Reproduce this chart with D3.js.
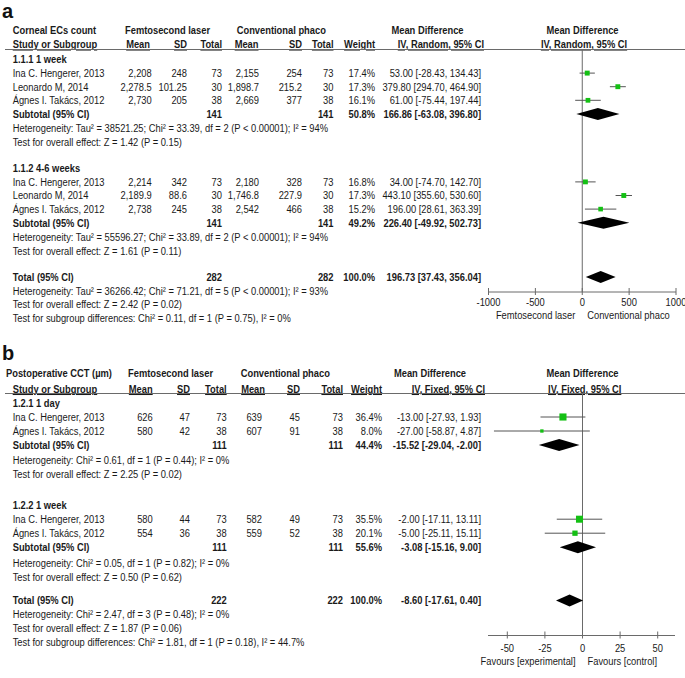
<!DOCTYPE html>
<html><head><meta charset="utf-8">
<script src="https://cdn.jsdelivr.net/npm/d3@7"></script>
<style>body{margin:0;background:#fff}svg{display:block}</style>
</head><body>
<script>
// ================= DATA: panel a (Corneal ECs count) =================
const studiesA = ["Ina C. Hengerer, 2013", "Leonardo M, 2014", "Ágnes I. Takács, 2012"];
const groupsA = ["1.1.1 1 week", "1.1.2 4-6 weeks"];
const laserMeanA = [[2208, 2278.5, 2730], [2214, 2189.9, 2738]];
const laserSdA   = [[248, 101.25, 205], [342, 88.6, 245]];
const laserNA    = [[73, 30, 38], [73, 30, 38]];
const convMeanA  = [[2155, 1898.7, 2669], [2180, 1746.8, 2542]];
const convSdA    = [[254, 215.2, 377], [328, 227.9, 466]];
const convNA     = [[73, 30, 38], [73, 30, 38]];
const weightA    = [[17.4, 17.3, 16.1], [16.8, 17.3, 15.2]];
const mdA        = [[53.00, 379.80, 61.00], [34.00, 443.10, 196.00]];
const loA        = [[-28.43, 294.70, -75.44], [-74.70, 355.60, 28.61]];
const hiA        = [[134.43, 464.90, 197.44], [142.70, 530.60, 363.39]];
const subNA      = [[141, 141], [141, 141]];
const subWeightA = [50.8, 49.2];
const subMdA     = [166.86, 226.40];
const subLoA     = [-63.08, -49.92];
const subHiA     = [396.80, 502.73];
const hetA  = ["Heterogeneity: Tau² = 38521.25; Chi² = 33.39, df = 2 (P < 0.00001); I² = 94%",
               "Heterogeneity: Tau² = 55596.27; Chi² = 33.89, df = 2 (P < 0.00001); I² = 94%"];
const testA = ["Test for overall effect: Z = 1.42 (P = 0.15)", "Test for overall effect: Z = 1.61 (P = 0.11)"];
const totalNA = [282, 282];
const totalA  = [196.73, 37.43, 356.04];   // md, lo, hi
const totalHetA  = "Heterogeneity: Tau² = 36266.42; Chi² = 71.21, df = 5 (P < 0.00001); I² = 93%";
const totalTestA = "Test for overall effect: Z = 2.42 (P = 0.02)";
const subgroupA  = "Test for subgroup differences: Chi² = 0.11, df = 1 (P = 0.75), I² = 0%";
const ticksA = [-1000, -500, 0, 500, 1000];
const favoursA = ["Femtosecond laser", "Conventional phaco"];

// ================= DATA: panel b (Postoperative CCT) =================
const studiesB = ["Ina C. Hengerer, 2013", "Ágnes I. Takács, 2012"];
const groupsB = ["1.2.1 1 day", "1.2.2 1 week"];
const laserMeanB = [[626, 580], [580, 554]];
const laserSdB   = [[47, 42], [44, 36]];
const laserNB    = [[73, 38], [73, 38]];
const convMeanB  = [[639, 607], [582, 559]];
const convSdB    = [[45, 91], [49, 52]];
const convNB     = [[73, 38], [73, 38]];
const weightB    = [[36.4, 8.0], [35.5, 20.1]];
const mdB        = [[-13.00, -27.00], [-2.00, -5.00]];
const loB        = [[-27.93, -58.87], [-17.11, -25.11]];
const hiB        = [[1.93, 4.87], [13.11, 15.11]];
const subNB      = [[111, 111], [111, 111]];
const subWeightB = [44.4, 55.6];
const subMdB     = [-15.52, -3.08];
const subLoB     = [-29.04, -15.16];
const subHiB     = [-2.00, 9.00];
const hetB  = ["Heterogeneity: Chi² = 0.61, df = 1 (P = 0.44); I² = 0%",
               "Heterogeneity: Chi² = 0.05, df = 1 (P = 0.82); I² = 0%"];
const testB = ["Test for overall effect: Z = 2.25 (P = 0.02)", "Test for overall effect: Z = 0.50 (P = 0.62)"];
const totalNB = [222, 222];
const totalB  = [-8.60, -17.61, 0.40];
const totalHetB  = "Heterogeneity: Chi² = 2.47, df = 3 (P = 0.48); I² = 0%";
const totalTestB = "Test for overall effect: Z = 1.87 (P = 0.06)";
const subgroupB  = "Test for subgroup differences: Chi² = 1.81, df = 1 (P = 0.18), I² = 44.7%";
const ticksB = [-50, -25, 0, 25, 50];
const favoursB = ["Favours [experimental]", "Favours [control]"];

// ================= DRAWING =================
const W = 685, H = 678, SX = 0.85;
const FONT = "'Liberation Sans', Arial, sans-serif";
const svg = d3.select("body").append("svg").attr("width", W).attr("height", H)
  .style("font-family", FONT).style("font-size", "11px");

const numFmt = d3.format(",");
const f2 = v => v.toFixed(2);
const ciTxt = (m, l, h) => `${f2(m)} [${f2(l)}, ${f2(h)}]`;
const pct = v => v.toFixed(1) + "%";

function txt(g, x, y, s, anchor = "start", bold = false, underline = false) {
  const t = g.append("text")
    .attr("transform", `translate(${x},${y}) scale(${SX},1)`)
    .attr("dy", "0.35em").attr("text-anchor", anchor).attr("fill", "#1a1a1a")
    .text(s);
  if (bold) t.style("font-weight", "bold");
  if (underline) t.style("text-decoration", "underline");
  return t;
}

function panel(cfg) {
  const g = svg.append("g");
  const c = cfg.cols;
  const x = d3.scaleLinear().domain(cfg.domain).range(cfg.range);
  const rowY = i => cfg.row0 + cfg.rowStep * i;
  const sq = d3.scaleSqrt().domain([0, 100]).range([0, 11.8]);

  g.append("text").attr("x", 2).attr("y", cfg.letterY).text(cfg.letter)
    .style("font-weight", "bold").style("font-size", "20px").attr("fill", "#111");

  txt(g, cfg.titleX, cfg.hdr1Y, cfg.title, "start", true);
  txt(g, c.g1, cfg.hdr1Y, "Femtosecond laser", "start", true);
  txt(g, c.g2, cfg.hdr1Y, "Conventional phaco", "start", true);
  txt(g, c.mdHead, cfg.hdr1Y, "Mean Difference", "middle", true);
  txt(g, c.plotHead, cfg.hdr1Y, "Mean Difference", "middle", true);
  txt(g, c.study, cfg.hdr2Y, "Study or Subgroup", "start", true, true);
  [["Mean", c.m1h], ["SD", c.s1], ["Total", c.t1], ["Mean", c.m2h], ["SD", c.s2], ["Total", c.t2], ["Weight", c.w]]
    .forEach(([s, xx]) => txt(g, xx, cfg.hdr2Y, s, "end", true, true));
  txt(g, c.ciHead, cfg.hdr2Y, cfg.method, "end", true, true);
  txt(g, c.plotHead2, cfg.hdr2Y, cfg.method, "middle", true, true);

  g.append("line").attr("x1", 5).attr("x2", W).attr("y1", cfg.lineY).attr("y2", cfg.lineY)
    .attr("stroke", "#6a6a6a").attr("stroke-width", 1);

  g.append("line").attr("x1", x(0)).attr("x2", x(0)).attr("y1", cfg.lineY).attr("y2", cfg.axisY)
    .attr("stroke", "#6a6a6a").attr("stroke-width", 1);

  const d = cfg.data;
  const diamond = (m, l, h, y) => g.append("path")
    .attr("d", `M${x(l)},${y}L${x(m)},${y - 6}L${x(h)},${y}L${x(m)},${y + 6}Z`).attr("fill", "#000");

  d.groups.forEach((gn, gi) => {
    const base = cfg.groupRows[gi];
    txt(g, c.study, rowY(base), gn, "start", true);
    d.studies.forEach((sn, j) => {
      const y = rowY(base + 1 + j);
      txt(g, c.study, y, sn);
      txt(g, c.m1, y, numFmt(d.lm[gi][j]), "end");
      txt(g, c.s1, y, numFmt(d.ls[gi][j]), "end");
      txt(g, c.t1, y, d.ln[gi][j], "end");
      txt(g, c.m2, y, numFmt(d.cm[gi][j]), "end");
      txt(g, c.s2, y, numFmt(d.cs[gi][j]), "end");
      txt(g, c.t2, y, d.cn[gi][j], "end");
      txt(g, c.w, y, pct(d.w[gi][j]), "end");
      txt(g, c.ci, y, ciTxt(d.md[gi][j], d.lo[gi][j], d.hi[gi][j]), "end");
      g.append("line").attr("x1", x(d.lo[gi][j])).attr("x2", x(d.hi[gi][j])).attr("y1", y).attr("y2", y)
        .attr("stroke", "#555").attr("stroke-width", 1);
      const s = sq(d.w[gi][j]);
      g.append("rect").attr("x", x(d.md[gi][j]) - s / 2).attr("y", y - s / 2).attr("width", s).attr("height", s)
        .attr("fill", "#14c014");
    });
    const ys = rowY(base + 1 + d.studies.length);
    txt(g, c.study, ys, "Subtotal (95% CI)", "start", true);
    txt(g, c.t1, ys, d.subN[gi][0], "end", true);
    txt(g, c.t2, ys, d.subN[gi][1], "end", true);
    txt(g, c.w, ys, pct(d.subW[gi]), "end", true);
    txt(g, c.ci, ys, ciTxt(d.subMd[gi], d.subLo[gi], d.subHi[gi]), "end", true);
    diamond(d.subMd[gi], d.subLo[gi], d.subHi[gi], ys);
    txt(g, c.study, rowY(base + 2 + d.studies.length) + cfg.footPad, d.het[gi]);
    txt(g, c.study, rowY(base + 3 + d.studies.length) + cfg.footPad, d.test[gi]);
  });

  const yt = rowY(cfg.totalRow);
  txt(g, c.study, yt, "Total (95% CI)", "start", true);
  txt(g, c.t1, yt, d.totN[0], "end", true);
  txt(g, c.t2, yt, d.totN[1], "end", true);
  txt(g, c.w, yt, "100.0%", "end", true);
  txt(g, c.ci, yt, ciTxt(d.tot[0], d.tot[1], d.tot[2]), "end", true);
  diamond(d.tot[0], d.tot[1], d.tot[2], yt);
  txt(g, c.study, rowY(cfg.totalRow + 1), d.totHet);
  txt(g, c.study, rowY(cfg.totalRow + 2), d.totTest);
  txt(g, c.study, rowY(cfg.totalRow + 3), d.subgroup);

  g.append("line").attr("x1", cfg.axisX[0]).attr("x2", cfg.axisX[1]).attr("y1", cfg.axisY).attr("y2", cfg.axisY)
    .attr("stroke", "#6a6a6a").attr("stroke-width", 1);
  cfg.ticks.forEach(t => {
    g.append("line").attr("x1", x(t)).attr("x2", x(t)).attr("y1", cfg.axisY - 4).attr("y2", cfg.axisY + 3)
      .attr("stroke", "#6a6a6a").attr("stroke-width", 1);
    txt(g, x(t), cfg.tickY, String(t), "middle");
  });
  txt(g, x(0) - 7, cfg.favY, cfg.favours[0], "end");
  txt(g, x(0) + 5, cfg.favY, cfg.favours[1], "start");
}

panel({
  letter: "a", letterY: 18,
  title: "Corneal ECs count", titleX: 12.7,
  hdr1Y: 30.5, hdr2Y: 44.5, lineY: 49.5,
  row0: 59.5, rowStep: 13.6, groupRows: [0, 8], totalRow: 16, footPad: 1,
  cols: { study: 12.7, g1: 125, g2: 236.7, m1: 151.7, m1h: 150, s1: 187, t1: 222, m2: 259, m2h: 258.5, s2: 302, t2: 333.5,
          w: 375, ci: 481, ciHead: 484, mdHead: 427.5, plotHead: 582.5, plotHead2: 584 },
  method: "IV, Random, 95% CI",
  domain: [-1000, 1000], range: [488.5, 676], axisX: [488.5, 676],
  axisY: 292, tickY: 302, favY: 315.5, ticks: ticksA, favours: favoursA,
  data: { studies: studiesA, groups: groupsA, lm: laserMeanA, ls: laserSdA, ln: laserNA, cm: convMeanA, cs: convSdA, cn: convNA,
          w: weightA, md: mdA, lo: loA, hi: hiA, subN: subNA, subW: subWeightA, subMd: subMdA, subLo: subLoA, subHi: subHiA,
          het: hetA, test: testA, totN: totalNA, tot: totalA, totHet: totalHetA, totTest: totalTestA, subgroup: subgroupA }
});

panel({
  letter: "b", letterY: 360,
  title: "Postoperative CCT (µm)", titleX: 6,
  hdr1Y: 373, hdr2Y: 389, lineY: 393.5,
  row0: 403, rowStep: 14, groupRows: [0, 7.3], totalRow: 14.1, footPad: 1.5,
  cols: { study: 12.7, g1: 128, g2: 240.7, m1: 152.7, m1h: 152.7, s1: 190, t1: 226.7, m2: 262, m2h: 265, s2: 300, t2: 343,
          w: 382, ci: 481, ciHead: 485, mdHead: 430, plotHead: 582.5, plotHead2: 584.7 },
  method: "IV, Fixed, 95% CI",
  domain: [-50, 50], range: [507.3, 657.7], axisX: [488, 675],
  axisY: 635.5, tickY: 648, favY: 661.5, ticks: ticksB, favours: favoursB,
  data: { studies: studiesB, groups: groupsB, lm: laserMeanB, ls: laserSdB, ln: laserNB, cm: convMeanB, cs: convSdB, cn: convNB,
          w: weightB, md: mdB, lo: loB, hi: hiB, subN: subNB, subW: subWeightB, subMd: subMdB, subLo: subLoB, subHi: subHiB,
          het: hetB, test: testB, totN: totalNB, tot: totalB, totHet: totalHetB, totTest: totalTestB, subgroup: subgroupB }
});
</script>
</body></html>
